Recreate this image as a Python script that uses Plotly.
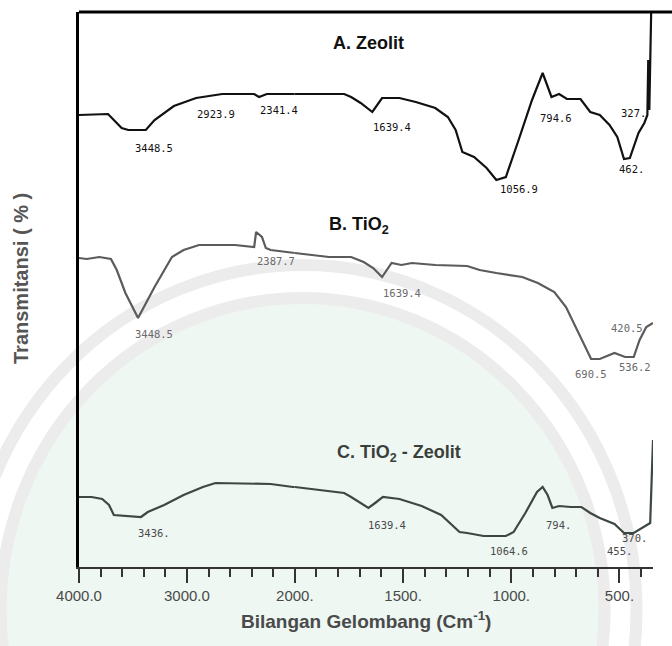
import plotly.graph_objects as go

# ---------------- data (wavenumber cm-1, transmittance in arbitrary offset units) ----------------
wn_a = [4000, 3731, 3605, 3543, 3381, 3300, 3121, 2915, 2673, 2377, 2332, 2260, 2000,
        1772, 1740, 1696, 1642, 1597, 1517, 1441, 1351, 1293, 1257, 1226, 1172, 1114, 1069,
        1025, 966, 904, 855, 814, 779, 743, 680, 635, 591, 546, 510, 479, 452, 412, 385,
        371, 367, 362, 353]
t_a = [452, 453, 439, 437, 437, 447, 461, 469, 473, 473, 470, 473, 473,
       473, 470, 464, 455, 469, 469, 465, 459, 450, 437, 415, 410, 399, 387,
       390, 427, 467, 494, 470, 473, 468, 468, 455, 452, 442, 430, 408, 409, 434, 444,
       452, 507, 457, 560]

wn_b = [4000, 3928, 3812, 3704, 3650, 3570, 3453, 3363, 3300, 3139, 3031, 2888, 2556,
        2377, 2359, 2305, 2269, 2224, 2018, 2000, 1843, 1740, 1682, 1638, 1597, 1553, 1508,
        1459, 1351, 1204, 1146, 1069, 949, 877, 801, 747, 711, 666, 631, 591, 523, 474,
        434, 407, 376, 345]
t_b = [309, 308, 310, 308, 297, 274, 249, 267, 280, 310, 317, 322, 322,
       320, 335, 330, 319, 317, 314, 314, 310, 310, 305, 299, 290, 304, 302,
       304, 302, 301, 297, 294, 290, 284, 275, 260, 244, 224, 208, 208, 214, 210,
       210, 227, 240, 244]

wn_c = [4000, 3883, 3785, 3722, 3677, 3480, 3426, 3363, 3211, 3031, 2852, 2735, 2224,
        2018, 2000, 1888, 1772, 1740, 1696, 1660, 1629, 1593, 1517, 1414, 1324, 1239, 1204,
        1128, 1025, 989, 935, 881, 855, 832, 810, 779, 725, 676, 635, 591, 523, 479, 434,
        389, 358, 345]
t_c = [70, 70, 68, 62, 52, 51, 50, 55, 62, 72, 80, 84, 83,
       80, 80, 77, 74, 70, 64, 59, 64, 70, 68, 61, 52, 35, 34,
       31, 31, 35, 54, 75, 80, 72, 59, 61, 60, 60, 54, 49, 43, 34, 34,
       40, 44, 127]

# peak labels: text, wavenumber, transmittance
peaks_a = [("3448.5", 3309, 419), ("2923.9", 2735, 453), ("2341.4", 2143, 457),
           ("1639.4", 1553, 440), ("1056.9", 966, 378), ("794.6", 792, 449),
           ("327.", 434, 454), ("462.", 443, 398)]
peaks_b = [("3448.5", 3309, 233), ("2387.7", 2179, 306), ("1639.4", 1503, 274),
           ("690.5", 631, 193), ("536.2", 430, 200), ("420.5", 465, 239)]
peaks_c = [("3436.", 3309, 34), ("1639.4", 1575, 42), ("1064.6", 1011, 16),
           ("794.", 783, 42), ("455.", 501, 16), ("370.", 430, 29)]

series_names = ["A. Zeolit", "B. TiO<sub>2</sub>", "C. TiO<sub>2</sub> - Zeolit"]
series_title_pos = [(1660, 524), (1705, 342), (1521, 114)]

major_hi = [4000, 3000, 2000]
major_hi_text = ["4000.0", "3000.0", "2000."]
major_lo = [1500, 1000, 500]
major_lo_text = ["1500.", "1000.", "500."]

# ---------------- figure ----------------
colors = ["#111111", "#5b5b5b", "#3c4840"]
fig = go.Figure()


def add_series(wn, t, color, name):
    hi = [(w, v) for w, v in zip(wn, t) if w >= 2000]
    lo = [(w, v) for w, v in zip(wn, t) if w <= 2000]
    fig.add_trace(go.Scatter(x=[p[0] for p in hi], y=[p[1] for p in hi], mode="lines",
                             line=dict(color=color, width=2.2), xaxis="x", yaxis="y",
                             showlegend=False, name=name, cliponaxis=True))
    fig.add_trace(go.Scatter(x=[p[0] for p in lo], y=[p[1] for p in lo], mode="lines",
                             line=dict(color=color, width=2.2), xaxis="x2", yaxis="y",
                             showlegend=False, name=name, cliponaxis=True))


add_series(wn_a, t_a, colors[0], "A")
add_series(wn_b, t_b, colors[1], "B")
add_series(wn_c, t_c, colors[2], "C")

annotations = []
label_colors = ["#111111", "#6a6a6a", "#4a4a4a"]
for peaks, lc in zip([peaks_a, peaks_b, peaks_c], label_colors):
    for txt, w, v in peaks:
        annotations.append(dict(text=txt, x=w, y=v, xref="x" if w >= 2000 else "x2", yref="y",
                                showarrow=False, font=dict(family="DejaVu Sans Mono", size=10.5, color=lc)))
for name, (w, v), c in zip(series_names, series_title_pos, ["#111111", "#111111", "#3a3f3a"]):
    annotations.append(dict(text="<b>" + name + "</b>", x=w, y=v, xref="x" if w >= 2000 else "x2",
                            yref="y", showarrow=False,
                            font=dict(family="Liberation Sans, Arial", size=18, color=c)))

annotations.append(dict(text="<b>Bilangan Gelombang (Cm<sup>-1</sup>)</b>", x=0.5, y=-0.07,
                        xref="paper", yref="paper", showarrow=False, xanchor="center", yanchor="top",
                        font=dict(family="Liberation Sans, Arial", size=19, color="#4a4a4a")))
annotations.append(dict(text="<b>Transmitansi ( % )</b>", x=-0.1, y=0.52, textangle=-90,
                        xref="paper", yref="paper", showarrow=False, xanchor="center", yanchor="middle",
                        font=dict(family="Liberation Sans, Arial", size=20, color="#555555")))

W_PLOT = 593.0
H_PLOT = 555.0
split = (302 - 79) / W_PLOT


def px_x(px):
    return (px - 79) / W_PLOT


def px_y(py):
    return (567 - py) / H_PLOT


shapes = [
    # faint watermark rings
    dict(type="circle", xref="paper", yref="paper", layer="below",
         x0=px_x(310 - 345), x1=px_x(310 + 345), y0=px_y(610 + 345), y1=px_y(610 - 345),
         fillcolor="#ffffff", line=dict(color="#ececec", width=12)),
    dict(type="circle", xref="paper", yref="paper", layer="below",
         x0=px_x(310 - 312), x1=px_x(310 + 312), y0=px_y(610 + 312), y1=px_y(610 - 312),
         fillcolor="#eef7f2", line=dict(color="#ececec", width=12)),
    # top border
    dict(type="line", xref="paper", yref="paper", x0=0, x1=1.05, y0=1, y1=1,
         line=dict(color="#000000", width=3)),
]

tickfont = dict(family="Liberation Sans, Arial", size=15, color="#4a4a4a")
fig.update_layout(
    width=672, height=646,
    margin=dict(l=79, r=0, t=12, b=79),
    paper_bgcolor="#ffffff", plot_bgcolor="rgba(0,0,0,0)",
    xaxis=dict(domain=[0, split], range=[4000, 2000], tickmode="array", tickvals=major_hi,
               ticktext=major_hi_text, ticks="outside", ticklen=14, tickwidth=2, tickcolor="#333333",
               showline=True, linecolor="#333333", linewidth=2, showgrid=False, zeroline=False,
               tickfont=tickfont, anchor="y",
               minor=dict(tickvals=list(range(3800, 2000, -200)), ticks="outside", ticklen=8,
                          tickwidth=2, tickcolor="#333333", showgrid=False)),
    xaxis2=dict(domain=[split, 1], range=[2000, 345], tickmode="array", tickvals=major_lo,
                ticktext=major_lo_text, ticks="outside", ticklen=14, tickwidth=2, tickcolor="#333333",
                showline=True, linecolor="#333333", linewidth=2, showgrid=False, zeroline=False,
                tickfont=tickfont, anchor="y",
                minor=dict(tickvals=[v for v in range(1900, 345, -100) if v % 500 != 0],
                           ticks="outside", ticklen=8, tickwidth=2, tickcolor="#333333",
                           showgrid=False)),
    yaxis=dict(domain=[0, 1], range=[0, 555], showticklabels=False, ticks="", showgrid=False,
               zeroline=False, showline=True, linecolor="#000000", linewidth=3, anchor="x"),
    annotations=annotations,
    shapes=shapes,
)

fig.write_html("out.html", config={"displayModeBar": False},
               post_script="document.body.style.margin='0';document.body.style.overflow='hidden';")
